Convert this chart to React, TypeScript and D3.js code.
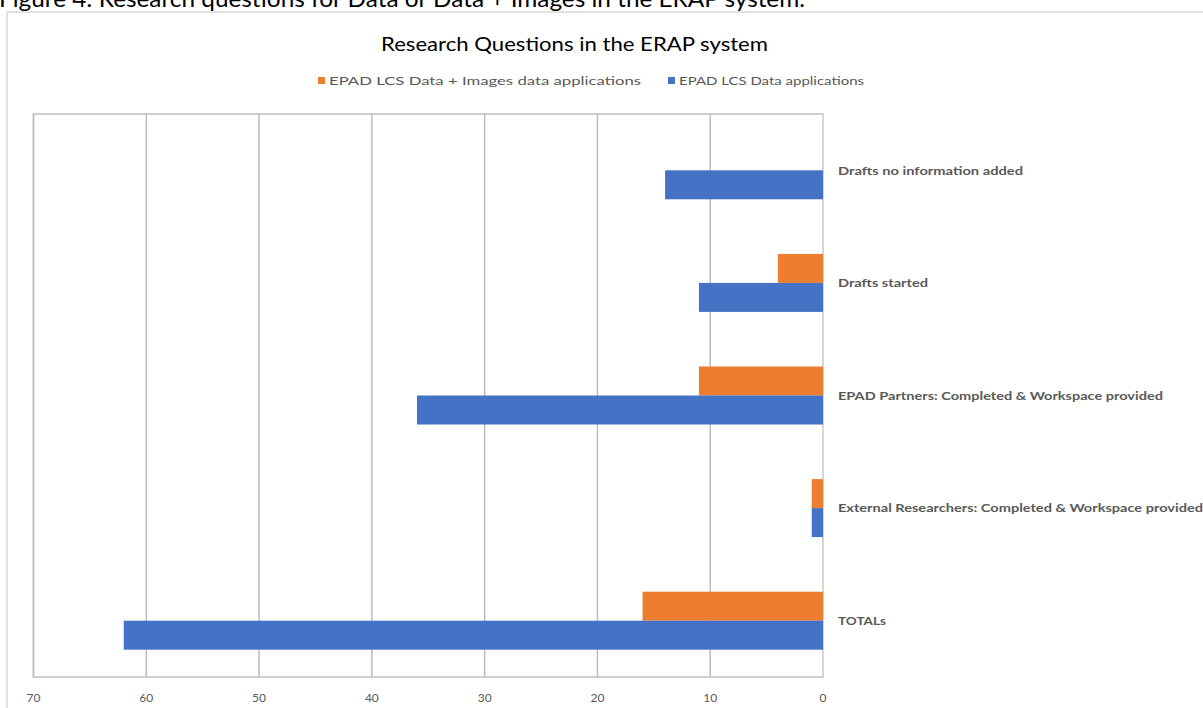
import React from 'react';
import * as d3 from 'd3';

const categories = [
  'Drafts no information added',
  'Drafts started',
  'EPAD Partners: Completed & Workspace provided',
  'External Researchers: Completed & Workspace provided',
  'TOTALs',
];
const imagesApps = [0, 4, 11, 1, 16];
const dataApps = [14, 11, 36, 1, 62];
const seriesNames = ['EPAD LCS Data + Images data applications', 'EPAD LCS Data applications'];
const xTickValues = [70, 60, 50, 40, 30, 20, 10, 0];

const caption = 'Figure 4: Research questions for Data or Data + Images in the ERAP system.';
const title = 'Research Questions in the ERAP system';

const W = 1203;
const H = 708;
const plot = { left: 33.5, right: 823, top: 114, bottom: 677 };
const colors = ['#ED7D31', '#4472C4'];
const grey = '#595959';
const font = 'Lato, "Open Sans", sans-serif';
// widths of the category labels as rendered in the source pdf
const labelWidths = [185, 90, 325, 365, 48];

const App = () => {
  const x = d3.scaleLinear().domain([70, 0]).range([plot.left, plot.right]);
  const y = d3
    .scaleBand()
    .domain(categories)
    .range([plot.top, plot.bottom])
    .paddingInner(0.485)
    .paddingOuter(0.2425);
  const sub = d3.scaleBand().domain(['0', '1']).range([0, y.bandwidth()]);

  const series = [imagesApps, dataApps];

  return (
    <>
      <style>{'body{margin:0;overflow:hidden}'}</style>
      <svg width={W} height={H} style={{ display: 'block', background: '#fff' }}>
        {/* caption above the chart, clipped at the top */}
        <text x={-1} y={7} fontFamily={font} fontSize={24} fill="#000" textLength={806} lengthAdjust="spacingAndGlyphs">
          {caption}
        </text>

        {/* chart frame */}
        <rect x={7} y={12} width={W} height={H} fill="#fff" stroke="#d9d9d9" strokeWidth={1.5} />

        <text x={381} y={51} fontFamily={font} fontSize={19} fill="#000" textLength={387} lengthAdjust="spacingAndGlyphs">
          {title}
        </text>

        {/* legend */}
        <g fontFamily={font} fontSize={11} fill={grey}>
          <rect x={318} y={77} width={7} height={7} fill={colors[0]} />
          <text x={329} y={85} textLength={312} lengthAdjust="spacingAndGlyphs">{seriesNames[0]}</text>
          <rect x={668} y={77} width={7} height={7} fill={colors[1]} />
          <text x={679} y={85} textLength={185} lengthAdjust="spacingAndGlyphs">{seriesNames[1]}</text>
        </g>

        {/* plot border + gridlines */}
        <rect
          x={plot.left}
          y={plot.top}
          width={plot.right - plot.left}
          height={plot.bottom - plot.top}
          fill="none"
          stroke="#bfbfbf"
          strokeWidth={1.5}
        />
        {xTickValues.map((t) => (
          <line
            key={t}
            x1={x(t)}
            x2={x(t)}
            y1={plot.top}
            y2={plot.bottom}
            stroke={t === 0 ? '#d9d9d9' : '#bcbcbc'}
            strokeWidth={1.5}
          />
        ))}

        {/* bars */}
        {series.map((vals, si) =>
          categories.map((c, i) =>
            vals[i] > 0 ? (
              <rect
                key={`${si}-${i}`}
                x={x(vals[i])}
                y={(y(c) as number) + (sub(String(si)) as number)}
                width={x(0) - x(vals[i])}
                height={sub.bandwidth()}
                fill={colors[si]}
              />
            ) : null
          )
        )}

        {/* category labels */}
        {categories.map((c, i) => (
          <text
            key={c}
            x={838}
            y={(y(c) as number) + y.bandwidth() / 2}
            dy="0.35em"
            fontFamily={font}
            fontSize={12}
            fontWeight="bold"
            fill={grey}
            textLength={labelWidths[i]}
            lengthAdjust="spacingAndGlyphs"
          >
            {c}
          </text>
        ))}

        {/* x tick labels */}
        {xTickValues.map((t) => (
          <text
            key={t}
            x={x(t)}
            y={698}
            dy="0.35em"
            textAnchor="middle"
            fontFamily={font}
            fontSize={12}
            fill={grey}
          >
            {t}
          </text>
        ))}
      </svg>
    </>
  );
};

export default App;
